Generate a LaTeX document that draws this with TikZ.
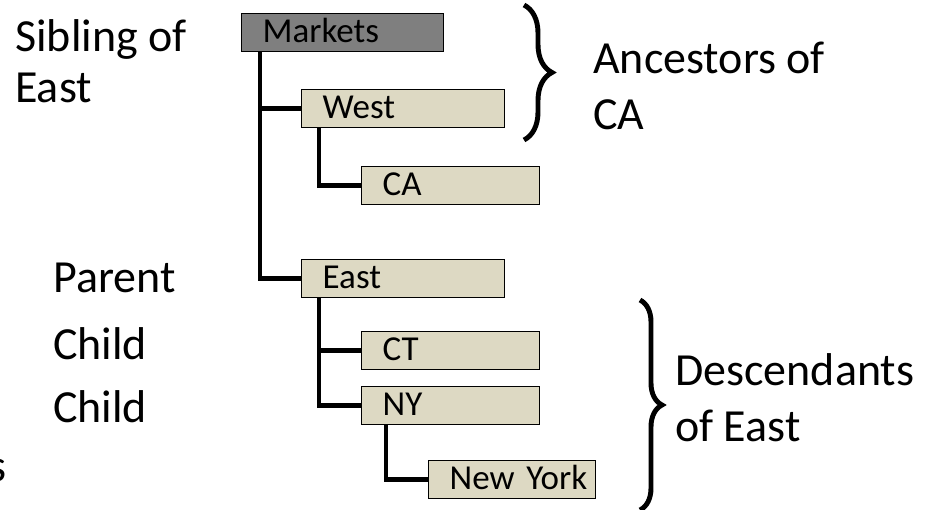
\documentclass[tikz,border=0pt]{standalone}
\usepackage{fontspec}
\setmainfont{Carlito}
\usetikzlibrary{decorations.pathreplacing}
\definecolor{boxtan}{HTML}{DDD9C3}
\definecolor{rootgray}{HTML}{7F7F7F}

\begin{document}
\begin{tikzpicture}[x=0.025cm, y=-0.025cm,
		box/.style={draw, line width=1pt, fill=boxtan, anchor=north west, minimum height=0.95cm,
			inner sep=0pt, text height=0.725cm, text depth=0.225cm, align=left,
			font=\fontsize{24.9}{30}\selectfont, execute at begin node={\hspace*{0.525cm}}},
		link/.style={line width=3.5pt},
		note/.style={anchor=base west, inner sep=0pt, align=left, font=\fontsize{32.7}{40.5}\selectfont},
		curly/.style={decorate, decoration={brace, amplitude=#1}, line width=3.5pt}]
		\useasboundingbox (0,0) rectangle (942,510);
		\clip (0,0) rectangle (942,510);

		% the tree
		\node[box, fill=rootgray, text width=5.05cm] (markets) at (241,13) {Markets};
		\node[box, text width=5.075cm] (west) at (301,89) {West};
		\node[box, text width=4.45cm] (ca) at (361,166) {CA};
		\node[box, text width=5.075cm] (east) at (301,259) {East};
		\node[box, text width=4.45cm] (ct) at (361,331) {CT};
		\node[box, text width=4.45cm] (ny) at (361,386) {NY};
		\node[box, text width=4.175cm] (newyork) at (428,460) {New York};

		\draw[link] ([xshift=0.475cm]markets.south west) |- (east.west);
		\draw[link] ([xshift=0.475cm]markets.south west) |- (west.west);
		\draw[link] ([xshift=0.45cm]west.south west) |- (ca.west);
		\draw[link] ([xshift=0.45cm]east.south west) |- (ny.west);
		\draw[link] ([xshift=0.45cm]east.south west) |- (ct.west);
		\draw[link] ([xshift=0.625cm]ny.south west) |- (newyork.west);

		% labels (base = last line)
		\node[note, font=\fontsize{32.7}{36.3}\selectfont] (sibling) at (15,103) {Sibling of\\East};
		\node[note] (parent) at (53,293) {Parent};
		\node[note] (child1) at (53,360) {Child};
		\node[note] (child2) at (53,423) {Child};
		\node[note] (cut) at (-12,482) {s};
		\node[note] (ancestors) at (593,130) {Ancestors of\\CA};
		\node[note] (descendants) at (675,442) {Descendants\\of East};

		\draw[curly=0.7cm] (524,5) -- (524,140);
		\draw[curly=0.55cm] (640,300) -- (640,510);
	\end{tikzpicture}
\end{document}
